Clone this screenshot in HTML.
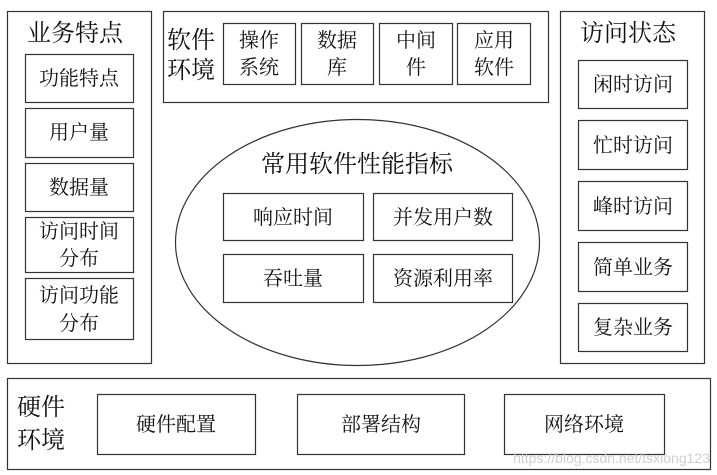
<!DOCTYPE html>
<html><head><meta charset="utf-8"><style>
html,body{margin:0;padding:0;background:#fff;}
svg{display:block;}
text{font-family:"Noto Serif CJK SC","Liberation Serif","WenQuanYi Zen Hei",serif;fill:#111;}
</style></head><body>
<svg width="717" height="475" viewBox="0 0 717 475" xmlns="http://www.w3.org/2000/svg">
<g fill="none" stroke="#333" stroke-width="1.2">
<rect x="7.5" y="11.5" width="144" height="352"/>
<rect x="25.5" y="54.5" width="108" height="48"/>
<rect x="25.5" y="108.5" width="108" height="49"/>
<rect x="25.5" y="163.5" width="108" height="48"/>
<rect x="25.5" y="217.5" width="108" height="55"/>
<rect x="25.5" y="278.5" width="108" height="61"/>
<rect x="163.5" y="11.5" width="385" height="91"/>
<rect x="223.5" y="23.5" width="72" height="61"/>
<rect x="301.5" y="23.5" width="72" height="61"/>
<rect x="379.5" y="23.5" width="73" height="61"/>
<rect x="457.5" y="23.5" width="73" height="61"/>
<rect x="560.5" y="11.5" width="144" height="352"/>
<rect x="578.5" y="60.5" width="109" height="48"/>
<rect x="578.5" y="120.5" width="109" height="49"/>
<rect x="578.5" y="181.5" width="109" height="49"/>
<rect x="578.5" y="242.5" width="109" height="49"/>
<rect x="578.5" y="303.5" width="109" height="48"/>
<ellipse cx="357.5" cy="242.5" rx="182" ry="123"/>
<rect x="223.5" y="193.5" width="140" height="47"/>
<rect x="373.5" y="193.5" width="139" height="47"/>
<rect x="223.5" y="254.5" width="140" height="48"/>
<rect x="373.5" y="254.5" width="139" height="48"/>
<rect x="7.5" y="378.5" width="703" height="91"/>
<rect x="97.5" y="394.5" width="158" height="60"/>
<rect x="297.5" y="394.5" width="167" height="60"/>
<rect x="504.5" y="394.5" width="160" height="60"/>
</g>
<g font-size="24">
<text x="27" y="41">业务特点</text>
<text x="167" y="48">软件</text>
<text x="167" y="78">环境</text>
<text x="580" y="41">访问状态</text>
<text x="357" y="172" text-anchor="middle">常用软件性能指标</text>
<text x="17" y="415">硬件</text>
<text x="17" y="448">环境</text>
</g>
<g font-size="20" text-anchor="middle">
<text x="79" y="85">功能特点</text>
<text x="79" y="139">用户量</text>
<text x="79" y="194">数据量</text>
<text x="79" y="238">访问时间</text>
<text x="79" y="265">分布</text>
<text x="79" y="302">访问功能</text>
<text x="79" y="330">分布</text>
<text x="259" y="47">操作</text>
<text x="259" y="74">系统</text>
<text x="337" y="47">数据</text>
<text x="337" y="74">库</text>
<text x="416" y="47">中间</text>
<text x="416" y="74">件</text>
<text x="494" y="47">应用</text>
<text x="494" y="74">软件</text>
<text x="633" y="91">闲时访问</text>
<text x="633" y="152">忙时访问</text>
<text x="633" y="213">峰时访问</text>
<text x="633" y="274">简单业务</text>
<text x="633" y="334">复杂业务</text>
<text x="293" y="224">响应时间</text>
<text x="443" y="224">并发用户数</text>
<text x="293" y="285">吞吐量</text>
<text x="443" y="285">资源利用率</text>
<text x="176" y="431">硬件配置</text>
<text x="381" y="431">部署结构</text>
<text x="584" y="431">网络环境</text>
</g>
<text x="710" y="463" text-anchor="end" font-size="14" style="fill:#cfcfcf;font-family:'Liberation Sans',sans-serif">https://blog.csdn.net/tsxiong123</text>
</svg>
</body></html>
